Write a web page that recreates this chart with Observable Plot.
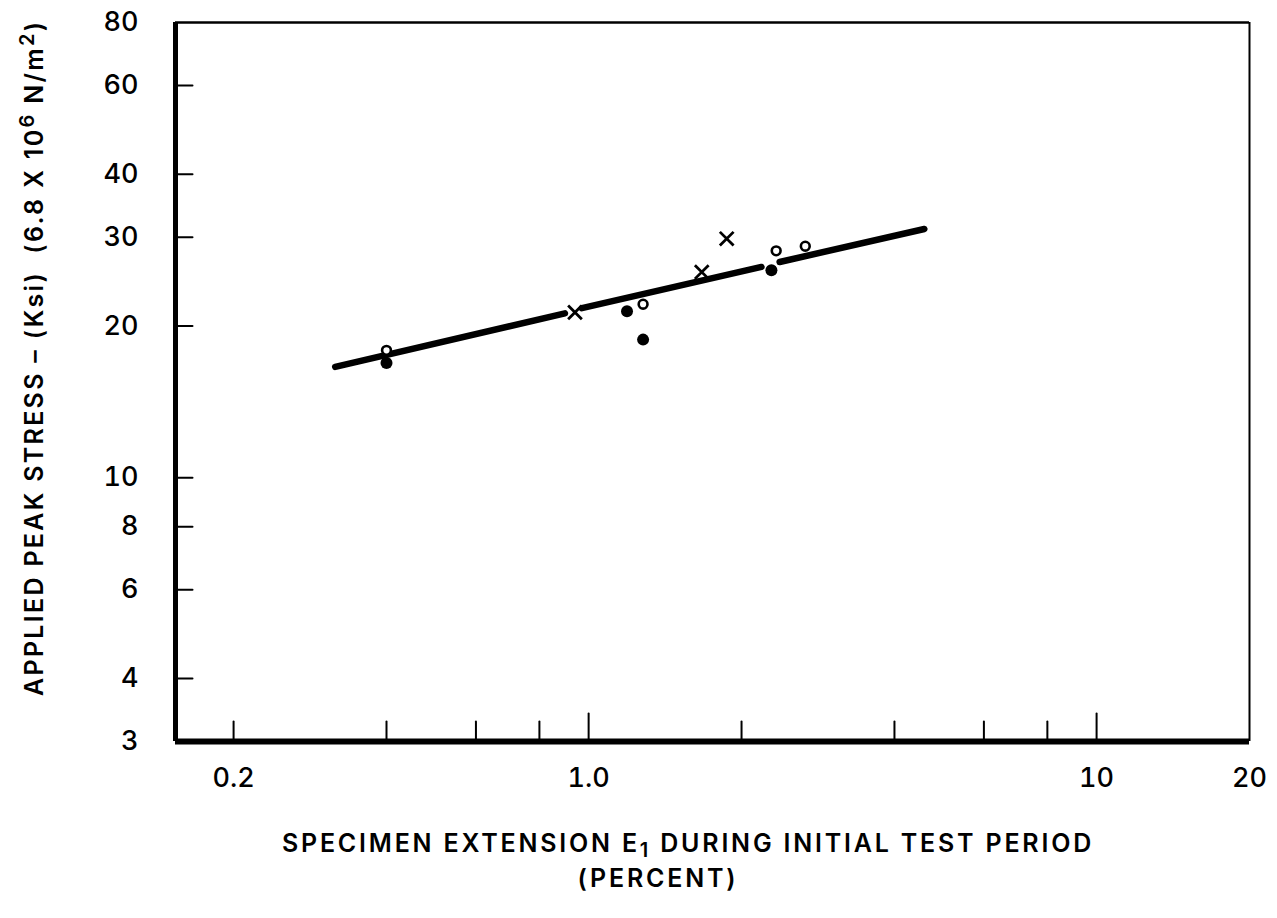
<!DOCTYPE html>
<html>
<head>
<meta charset="utf-8">
<script src="https://cdn.jsdelivr.net/npm/d3@7"></script>
<script src="https://cdn.jsdelivr.net/npm/@observablehq/plot@0.6"></script>
<style>
  body { margin: 0; background: #fff; }
  #chart svg { display: block; }
</style>
</head>
<body>
<div id="chart"></div>
<script>
// Open-circle specimens
const openX = [0.40, 1.28, 2.34, 2.67];
const openY = [17.9, 22.1, 28.2, 28.8];
// Filled-circle specimens
const filledX = [0.40, 1.19, 1.28, 2.29];
const filledY = [16.9, 21.4, 18.8, 25.8];
// Cross specimens
const crossX = [0.94, 1.67, 1.87];
const crossY = [21.3, 25.6, 29.8];
// Fitted line, hand-drawn in three pieces that break around markers
const fitX1 = [0.317, 0.970, 2.377];
const fitY1 = [16.6, 21.7, 26.8];
const fitX2 = [0.898, 2.189, 4.58];
const fitY2 = [21.2, 26.2, 31.16];

// Axes
const xDomain = [0.1537, 20];
const yDomain = [3, 80];
const xMinorTicks = [0.2, 0.4, 0.6, 0.8, 2, 4, 6, 8];
const xMajorTicks = [1, 10];
const xLabels = [0.2, 1, 10, 20];
const xLabelText = ["0.2", "1.0", "10", "20"];
const yTicks = [4, 6, 8, 10, 20, 30, 40, 60];
const yLabels = [3, 4, 6, 8, 10, 20, 30, 40, 60, 80];

const FONT = "Inter, 'DejaVu Sans', sans-serif";

const toRows = (xs, ys) => xs.map((x, i) => ({x, y: ys[i]}));
const openRows = toRows(openX, openY);
const filledRows = toRows(filledX, filledY);
const crossRows = toRows(crossX, crossY);
const fitRows = fitX1.map((x1, i) => ({x1, y1: fitY1[i], x2: fitX2[i], y2: fitY2[i]}));

// A plain straight stroke for inward tick marks
const stem = {draw(context, l) { context.moveTo(0, 0); context.lineTo(0, -l); }};

const chart = Plot.plot({
  width: 1277,
  height: 918,
  marginTop: 22,
  marginRight: 28,
  marginBottom: 177,
  marginLeft: 175,
  style: {fontFamily: FONT, fontSize: "27px", fontWeight: 500, color: "#000", background: "#fff"},
  x: {type: "log", domain: xDomain, nice: false},
  y: {type: "log", domain: yDomain, nice: false},
  marks: [
    // frame: heavy left and bottom axes, light top and right edges
    Plot.ruleY([yDomain[1]], {strokeWidth: 2.5}),
    Plot.ruleX([xDomain[1]], {strokeWidth: 2}),
    Plot.ruleX([xDomain[0]], {strokeWidth: 5}),
    Plot.ruleY([yDomain[0]], {strokeWidth: 6}),
    // inward ticks
    Plot.vector(xMinorTicks, {x: d => d, y: () => yDomain[0], length: 20, rotate: 0, anchor: "start", shape: stem, strokeWidth: 2}),
    Plot.vector(xMajorTicks, {x: d => d, y: () => yDomain[0], length: 28, rotate: 0, anchor: "start", shape: stem, strokeWidth: 2}),
    Plot.vector(yTicks, {x: () => xDomain[0], y: d => d, length: 17, rotate: 90, anchor: "start", shape: stem, strokeWidth: 2}),
    // tick labels
    Plot.axisX(xLabels, {tickSize: 0, tickPadding: 26, label: null, fontSize: 27,
      tickFormat: d => xLabelText[xLabels.indexOf(d)]}),
    Plot.axisY(yLabels, {tickSize: 0, tickPadding: 37, label: null, fontSize: 27,
      tickFormat: d => String(d)}),
    // fitted line
    Plot.link(fitRows, {x1: "x1", y1: "y1", x2: "x2", y2: "y2", strokeWidth: 6.5, strokeLinecap: "round"}),
    // specimens
    Plot.dot(filledRows, {x: "x", y: "y", r: 6, fill: "#000", stroke: "none"}),
    Plot.dot(openRows, {x: "x", y: "y", r: 4.4, fill: "#fff", stroke: "#000", strokeWidth: 2.6}),
    Plot.dot(crossRows, {x: "x", y: "y", r: 6.3, symbol: "times", stroke: "#000", strokeWidth: 2.8})
  ]
});

document.getElementById("chart").appendChild(chart);

// Axis titles with sub- and superscripts
const svg = d3.select(chart);
const titleStyle = (sel, spacing) => sel
  .attr("font-family", FONT).attr("font-size", 25).attr("font-weight", 600)
  .attr("letter-spacing", spacing).attr("fill", "#000");

const xTitle = svg.append("text").call(titleStyle, 2.8)
  .attr("text-anchor", "middle").attr("x", 688).attr("y", 852);
xTitle.append("tspan").text("SPECIMEN EXTENSION E");
xTitle.append("tspan").attr("dy", 5).attr("font-size", 20).text("1");
xTitle.append("tspan").attr("dy", -5).text(" DURING INITIAL TEST PERIOD");

svg.append("text").call(titleStyle, 2.8)
  .attr("text-anchor", "middle").attr("x", 658).attr("y", 887)
  .text("(PERCENT)");

const yTitle = svg.append("text").call(titleStyle, 2.3)
  .attr("text-anchor", "start")
  .attr("transform", "translate(43,696) rotate(-90)");
yTitle.append("tspan").text("APPLIED PEAK STRESS – (Ksi)\u00a0\u00a0(6.8 X 10");
yTitle.append("tspan").attr("dy", -9).attr("font-size", 20).text("6");
yTitle.append("tspan").attr("dy", 9).text(" N/m");
yTitle.append("tspan").attr("dy", -9).attr("font-size", 20).text("2");
yTitle.append("tspan").attr("dy", 9).text(")");
</script>
</body>
</html>
